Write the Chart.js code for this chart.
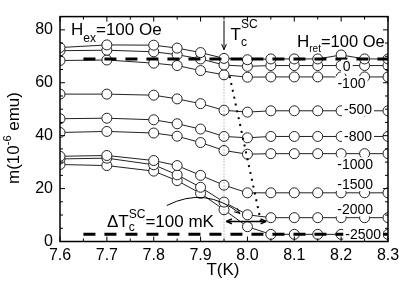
<!DOCTYPE html>
<html>
<head>
<meta charset="utf-8">
<script src="https://cdn.jsdelivr.net/npm/chart.js@4/dist/chart.umd.min.js"></script>
<style>
  html, body { margin: 0; padding: 0; background: #fff; }
</style>
</head>
<body>
<canvas id="chart" width="409" height="287"></canvas>
<script>
// temperatures (K) where m was measured
const temps = [7.6, 7.7, 7.8, 7.85, 7.9, 7.95, 8.0, 8.05, 8.1, 8.15, 8.2, 8.25, 8.3];

// m (10^-6 emu) for each H_ret
const mRet100   = [73.3, 74.3, 74.2, 73.1, 71.4, 69.2, 68.7, 69.0, 69.0, 69.0, 70.5, 69.0, 69.0];
const mRet0     = [72.1, 72.3, 71.7, 70.6, 69.0, 66.7, 66.2, 66.5, 66.5, 66.5, 66.5, 66.5, 66.5];
const mRetM100  = [68.4, 68.6, 67.4, 66.5, 64.6, 63.0, 62.1, 62.2, 62.2, 62.2, 62.2, 62.2, 62.2];
const mRetM500  = [55.7, 55.7, 55.3, 53.9, 52.1, 49.6, 48.9, 49.4, 49.4, 49.4, 49.4, 49.4, 49.4];
const mRetM800  = [46.4, 46.6, 46.0, 44.5, 42.5, 39.7, 39.2, 39.7, 39.7, 39.7, 39.7, 39.7, 39.7];
const mRetM1000 = [41.2, 41.6, 41.0, 39.8, 37.4, 34.4, 33.0, 33.2, 33.2, 33.2, 33.2, 33.2, 33.2];
const mRetM1500 = [32.2, 32.5, 30.6, 28.7, 25.0, 21.3, 18.4, 18.4, 18.4, 18.4, 18.4, 18.4, 18.4];
const mRetM2000 = [31.2, 31.5, 29.0, 25.2, 20.5, 14.9, 10.1, 9.0, 9.0, 9.0, 9.0, 9.0, 9.0];
const mRetM2500 = [29.1, 28.7, 26.6, 23.0, 18.2, 12.0, 5.6, 2.7, 2.7, 2.7, 2.7, 2.7, 2.7];

const series = [mRet100, mRet0, mRetM100, mRetM500, mRetM800, mRetM1000, mRetM1500, mRetM2000, mRetM2500];
const seriesNames = ["100", "0", "-100", "-500", "-800", "-1000", "-1500", "-2000", "-2500"];

// thick dashed reference levels (normal state / full shielding)
const refLevels = [69.0, 2.7];
const refStart = 7.65;

const xTickLabels = ["7.6", "7.7", "7.8", "7.9", "8.0", "8.1", "8.2", "8.3"];
const yTickLabels = ["0", "20", "40", "60", "80"];

const FONT = '"Liberation Sans", Arial, Helvetica, sans-serif';
const INK = "#222";

const datasets = [];
refLevels.forEach(level => {
  datasets.push({
    data: [{ x: refStart, y: level }, { x: 8.3, y: level }],
    borderColor: "#000",
    borderWidth: 3,
    borderDash: [12, 9],
    pointRadius: 0,
    fill: false
  });
});
series.forEach((vals, i) => {
  datasets.push({
    label: seriesNames[i],
    data: temps.map((t, j) => ({ x: t, y: vals[j] })),
    borderColor: INK,
    borderWidth: 1,
    pointRadius: 5,
    pointBorderWidth: 1,
    pointBorderColor: INK,
    pointBackgroundColor: "#fff",
    fill: false,
    tension: 0
  });
});

// draws text made of pieces, some raised or lowered
const drawRich = (ctx, x, y, parts) => {
  let cx = x;
  parts.forEach(p => {
    if (p.stack) {
      let w = 0;
      p.stack.forEach(s => {
        ctx.font = `${s.size}px ${FONT}`;
        ctx.fillText(s.t, cx, y + (s.dy || 0));
        w = Math.max(w, ctx.measureText(s.t).width);
      });
      cx += w;
    } else {
      ctx.font = `${p.size}px ${FONT}`;
      ctx.fillText(p.t, cx, y + (p.dy || 0));
      cx += ctx.measureText(p.t).width;
    }
  });
  return cx - x;
};

const richWidth = (ctx, parts) => {
  let w = 0;
  parts.forEach(p => {
    if (p.stack) {
      let m = 0;
      p.stack.forEach(s => { ctx.font = `${s.size}px ${FONT}`; m = Math.max(m, ctx.measureText(s.t).width); });
      w += m;
    } else {
      ctx.font = `${p.size}px ${FONT}`;
      w += ctx.measureText(p.t).width;
    }
  });
  return w;
};

const arrowHead = (ctx, x1, y1, x2, y2, size) => {
  const ang = Math.atan2(y2 - y1, x2 - x1);
  ctx.beginPath();
  ctx.moveTo(x2, y2);
  ctx.lineTo(x2 - size * Math.cos(ang - 0.4), y2 - size * Math.sin(ang - 0.4));
  ctx.moveTo(x2, y2);
  ctx.lineTo(x2 - size * Math.cos(ang + 0.4), y2 - size * Math.sin(ang + 0.4));
  ctx.stroke();
};

const overlay = {
  id: "overlay",
  afterDatasetsDraw(chart) {
    const { ctx, chartArea: a, scales } = chart;
    const px = v => scales.x.getPixelForValue(v);
    const py = v => scales.y.getPixelForValue(v);
    const seg = (x1, y1, x2, y2) => { ctx.beginPath(); ctx.moveTo(x1, y1); ctx.lineTo(x2, y2); ctx.stroke(); };

    ctx.save();
    ctx.fillStyle = "#000";
    ctx.strokeStyle = "#000";

    // guide lines at Tc
    ctx.strokeStyle = "#888";
    ctx.lineWidth = 1;
    ctx.setLineDash([1, 2]);
    seg(px(7.95), py(62), px(7.95), a.bottom);
    ctx.strokeStyle = "#000";
    ctx.lineWidth = 2;
    ctx.setLineDash([2, 5]);
    seg(px(7.962), py(62.5), px(8.03), py(6.5));
    ctx.setLineDash([]);

    // labels of H_ret with white boxes
    const tags = [
      ["0", 8.212, 66.1], ["-100", 8.222, 59.9], ["-500", 8.236, 50.1], ["-800", 8.236, 39.7],
      ["-1000", 8.23, 29.2], ["-1500", 8.23, 21.7], ["-2000", 8.23, 12.1], ["-2500", 8.247, 2.7]
    ];
    ctx.font = `14px ${FONT}`;
    ctx.textAlign = "center";
    ctx.textBaseline = "middle";
    tags.forEach(([t, xv, yv]) => {
      const w = ctx.measureText(t).width;
      ctx.fillStyle = "#fff";
      ctx.fillRect(px(xv) - w / 2 - 2, py(yv) - 7, w + 4, 14);
      ctx.fillStyle = "#000";
      ctx.fillText(t, px(xv), py(yv) + 1);
    });

    // frame
    ctx.lineWidth = 1.5;
    ctx.strokeRect(a.left, a.top, a.right - a.left, a.bottom - a.top);

    // inward ticks on all four sides
    ctx.lineWidth = 1;
    for (let i = 0; i <= 14; i++) {
      const p = px(7.6 + i * 0.05);
      const len = i % 2 === 0 ? 5 : 3;
      seg(p, a.bottom, p, a.bottom - len);
      seg(p, a.top, p, a.top + len);
    }
    for (let v = 0; v <= 85; v += 5) {
      const p = py(v);
      const len = v % 20 === 0 ? 5 : 3;
      seg(a.left, p, a.left + len, p);
      seg(a.right, p, a.right - len, p);
    }

    // Tc arrow
    ctx.lineWidth = 1;
    seg(px(7.95), py(83.5), px(7.95), py(72.5));
    arrowHead(ctx, px(7.95), py(83.5), px(7.95), py(72.5), 6);

    // delta Tc curved arrow
    const x0 = px(7.828), y0 = py(13.6), cxp = px(7.91), cyp = py(21), x1 = px(7.984), y1 = py(10.6);
    ctx.beginPath();
    ctx.moveTo(x0, y0);
    ctx.quadraticCurveTo(cxp, cyp, x1, y1);
    ctx.stroke();
    arrowHead(ctx, cxp, cyp, x1, y1, 6);

    // 100 mK double arrow
    ctx.lineWidth = 1.5;
    const hy = py(7.6);
    seg(px(7.955), hy, px(8.04), hy);
    arrowHead(ctx, px(8.04), hy, px(7.955), hy, 6);
    arrowHead(ctx, px(7.955), hy, px(8.04), hy, 6);

    // texts
    ctx.fillStyle = "#000";
    ctx.textAlign = "left";
    ctx.textBaseline = "alphabetic";
    drawRich(ctx, 71, 34.5, [{ t: "H", size: 17 }, { t: "ex", size: 12, dy: 7 }, { t: "=100 Oe", size: 17 }]);
    drawRich(ctx, 297, 46.5, [{ t: "H", size: 17 }, { t: "ret", size: 10, dy: 5 }, { t: "=100 Oe", size: 16.5 }]);
    drawRich(ctx, 230.5, 40, [{ t: "T", size: 17 }, { stack: [{ t: "SC", size: 12, dy: -12 }, { t: "c", size: 12, dy: 6 }] }]);
    drawRich(ctx, 107, 227, [{ t: "\u0394T", size: 17 }, { stack: [{ t: "SC", size: 12, dy: -9 }, { t: "c", size: 12, dy: 4 }] }, { t: "=100 mK", size: 17 }]);

    // axis titles
    ctx.textAlign = "center";
    ctx.font = `17px ${FONT}`;
    ctx.fillText("T(K)", (a.left + a.right) / 2 - 1, 275);
    const yParts = [{ t: "m(10", size: 17 }, { t: "-6", size: 11, dy: -8 }, { t: " emu)", size: 17 }];
    ctx.save();
    ctx.translate(19, 138);
    ctx.rotate(-Math.PI / 2);
    ctx.textAlign = "left";
    const tw = richWidth(ctx, yParts);
    drawRich(ctx, -tw / 2, 0, yParts);
    ctx.restore();

    ctx.restore();
  }
};

new Chart(document.getElementById("chart"), {
  type: "line",
  data: { datasets },
  options: {
    responsive: false,
    animation: false,
    layout: { padding: { left: 0, top: 14, right: 21, bottom: 0 } },
    plugins: { legend: { display: false }, tooltip: { enabled: false } },
    scales: {
      x: {
        type: "linear",
        min: 7.6,
        max: 8.3,
        afterFit: s => { s.height = 45.5; },
        afterBuildTicks: s => { s.ticks = xTickLabels.map(v => ({ value: Number(v) })); },
        grid: { display: false, drawTicks: false },
        border: { display: false },
        ticks: {
          color: "#000",
          padding: 4,
          font: { family: FONT, size: 16 },
          callback: v => Number(v).toFixed(1)
        }
      },
      y: {
        min: 0,
        max: 85,
        afterFit: s => { s.width = 60; },
        afterBuildTicks: s => { s.ticks = yTickLabels.map(v => ({ value: Number(v) })); },
        grid: { display: false, drawTicks: false },
        border: { display: false },
        ticks: {
          color: "#000",
          padding: 7,
          font: { family: FONT, size: 16 }
        }
      }
    }
  },
  plugins: [overlay]
});
</script>
</body>
</html>
